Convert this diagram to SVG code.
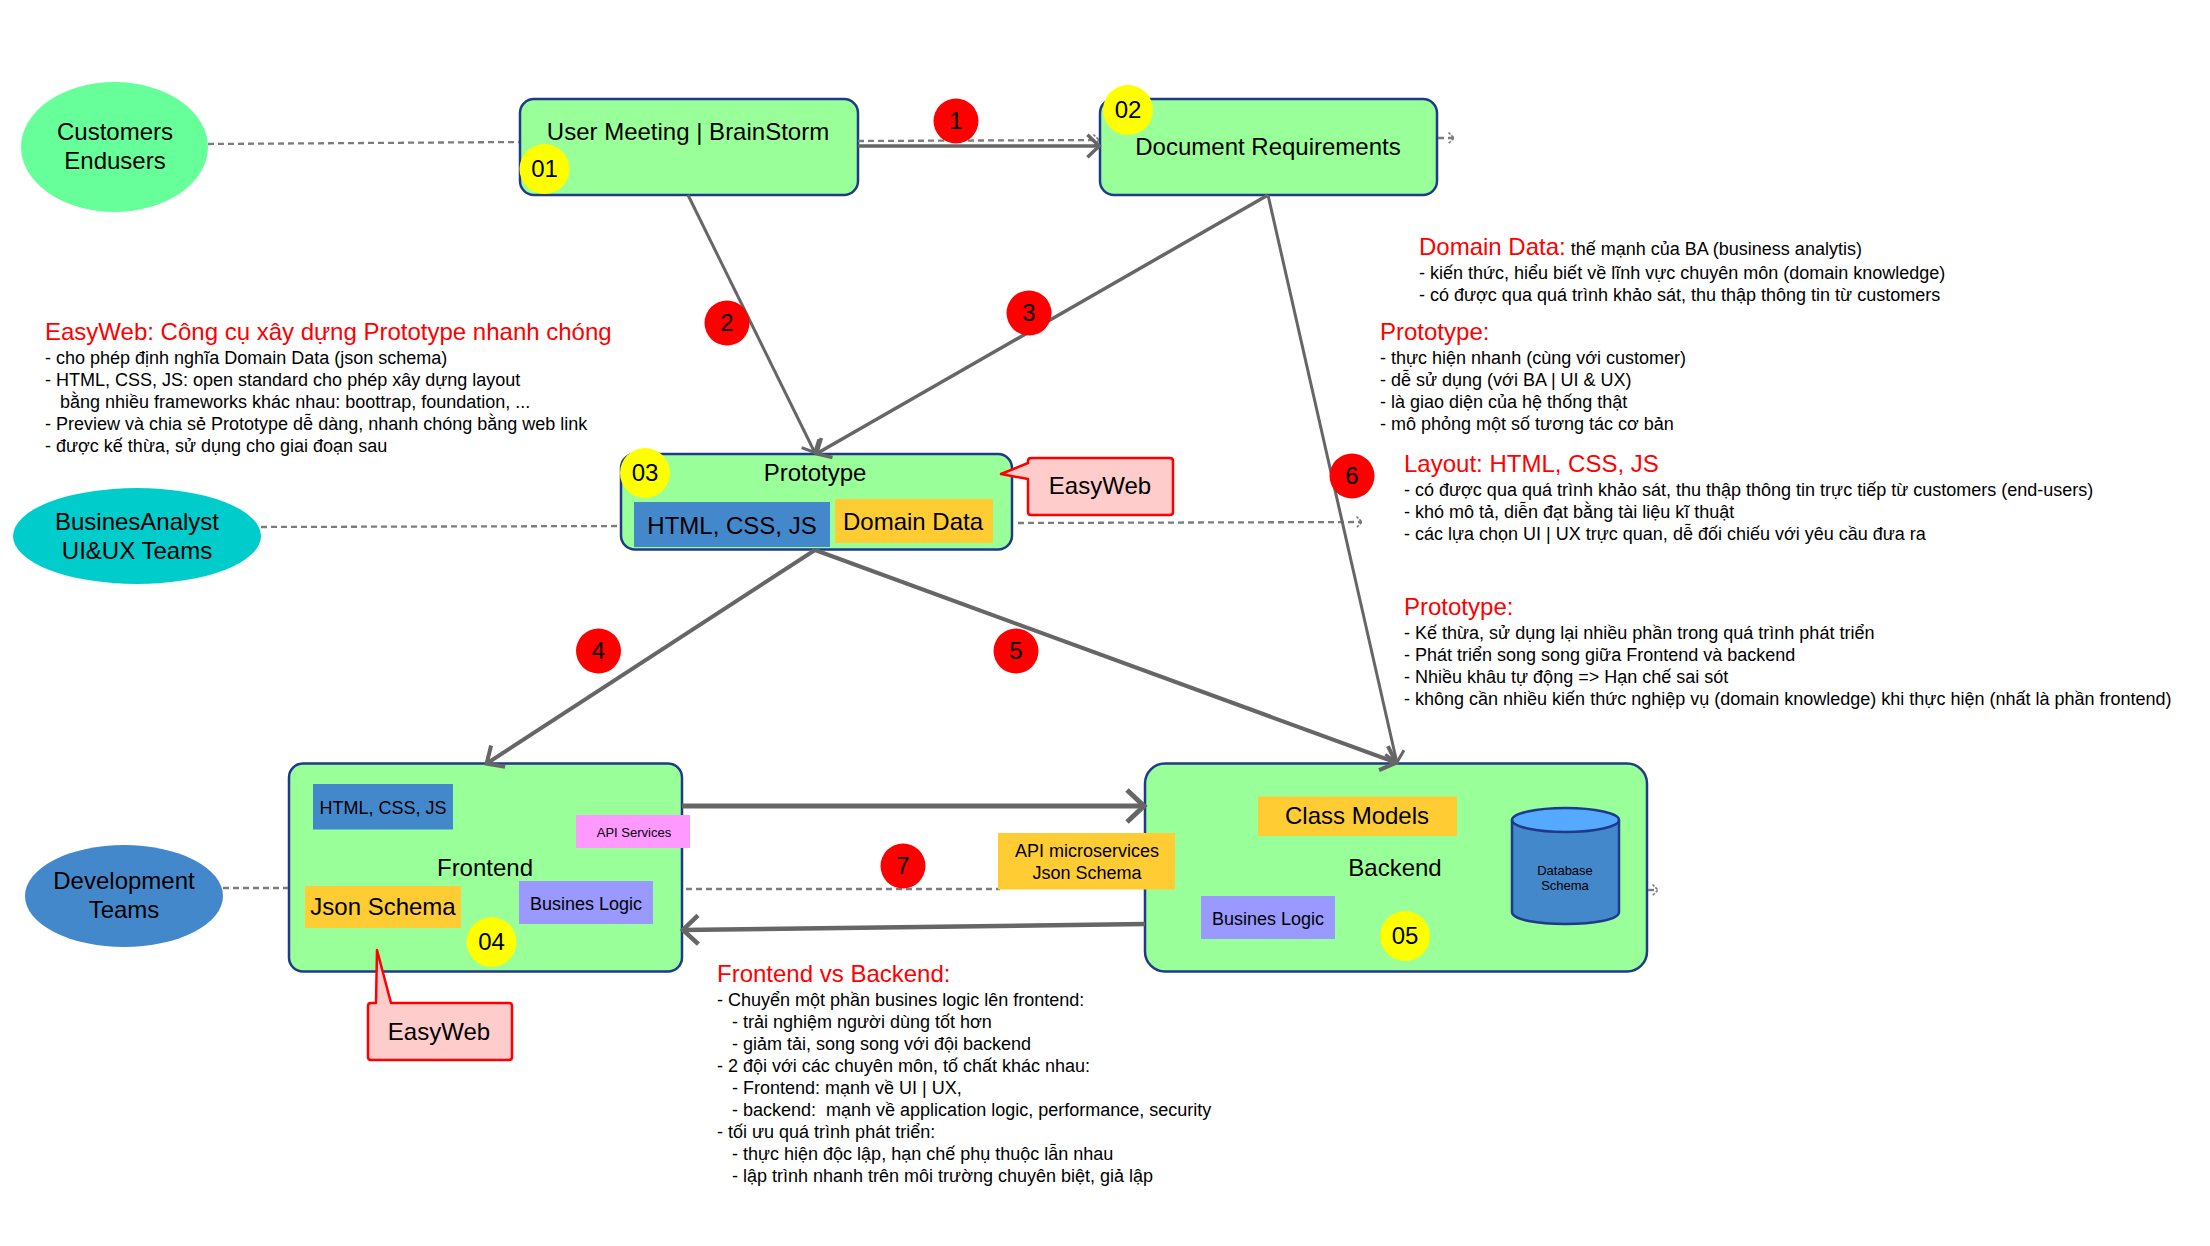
<svg xmlns="http://www.w3.org/2000/svg" width="2210" height="1246" viewBox="0 0 2210 1246">
<style>
text{font-family:"Liberation Sans",Arial,sans-serif;fill:#000}
.t{font-size:24px;text-anchor:middle}
.s{font-size:18px;text-anchor:middle}
.h{font-size:24px;fill:#f00}
.b{font-size:18px}
.box{fill:#99ff99;stroke:#1f3a8a;stroke-width:2.5}
.solid{fill:none;stroke:#666;marker-end:url(#arr)}
.dot{fill:none;stroke:#7c7c7c;stroke-width:2.3;stroke-dasharray:6 4}
.red{fill:#f00}.yel{fill:#ff0}
.blue{fill:#4488cc}.org{fill:#ffcc33}.pur{fill:#9999ff}.pink{fill:#ff99ff}
.call{fill:#ffcccc;stroke:#f00;stroke-width:2.5;stroke-linejoin:round}
</style>
<defs>
<marker id="arr" markerUnits="strokeWidth" markerWidth="6" markerHeight="8" viewBox="0 0 6 8" refX="4.6" refY="4" orient="auto" overflow="visible"><path d="M1,.8L4.4,4L1,7.2" fill="none" stroke="#666" stroke-width="1"/></marker>
<marker id="darr" markerUnits="strokeWidth" markerWidth="6" markerHeight="8" viewBox="0 0 6 8" refX="4" refY="4" orient="auto" overflow="visible"><path d="M1.6,1.6L4,4L1.6,6.400" fill="none" stroke="#7c7c7c" stroke-width=".7" stroke-dasharray="1.200 .6"/></marker>
</defs>
<rect width="2210" height="1246" fill="#fff"/>

<g id="customers"><ellipse cx="114.500" cy="147" rx="93.500" ry="65" fill="#66ff99"/><text class="t" x="115" y="140">Customers</text><text class="t" x="115" y="169">Endusers</text></g>
<g id="analyst"><ellipse cx="137" cy="536" rx="124" ry="48" fill="#00cccc"/><text class="t" x="137" y="530">BusinesAnalyst</text><text class="t" x="137" y="559">UI&amp;UX Teams</text></g>
<g id="devteams"><ellipse cx="124" cy="896" rx="99" ry="51" class="blue"/><text class="t" x="124" y="889">Development</text><text class="t" x="124" y="918">Teams</text></g>

<g id="meeting"><rect class="box" x="520" y="99" width="338" height="96" rx="14"/><text class="t" x="688" y="140">User Meeting | BrainStorm</text></g>
<g id="document"><rect class="box" x="1100" y="99" width="337" height="96" rx="14"/><text class="t" x="1268" y="155">Document Requirements</text></g>
<g id="prototype"><rect class="box" x="621" y="454" width="391" height="95.500" rx="14"/><text class="t" x="815" y="481">Prototype</text><rect class="blue" x="634" y="502" width="196" height="45"/><text class="t" x="732" y="534">HTML, CSS, JS</text><rect class="org" x="835" y="499" width="158" height="44"/><text class="t" x="913" y="530">Domain Data</text></g>
<g id="frontend"><rect class="box" x="289" y="763.500" width="393" height="208" rx="14"/><rect class="blue" x="313" y="784" width="140" height="45.500"/><text class="s" x="383" y="814">HTML, CSS, JS</text><text class="t" x="485" y="876">Frontend</text><rect class="org" x="305" y="886" width="156" height="42"/><text class="t" x="383" y="915">Json Schema</text><rect class="pur" x="519" y="881" width="134" height="43"/><text class="s" x="586" y="910">Busines Logic</text></g>
<g id="backend"><rect class="box" x="1145" y="763.500" width="502" height="208" rx="20"/><rect class="org" x="1258" y="796.500" width="199" height="39.500"/><text class="t" x="1357" y="824">Class Models</text><text class="t" x="1395" y="876">Backend</text><rect class="pur" x="1201" y="896" width="134" height="43"/><text class="s" x="1268" y="925">Busines Logic</text>
<path d="M1512,820V912C1512,928 1619,928 1619,912V820" class="blue" stroke="#1f3a8a" stroke-width="2.500"/><ellipse cx="1565.500" cy="820" rx="53.500" ry="12" fill="#55aaff" stroke="#1f3a8a" stroke-width="2.500"/><text x="1565" y="875" font-size="13" text-anchor="middle">Database</text><text x="1565" y="890" font-size="13" text-anchor="middle">Schema</text></g>

<g id="connectors">
<path class="dot" d="M208,144L519,142"/>
<path class="dot" d="M858,141L1099,140" marker-end="url(#darr)"/>
<path class="dot" d="M1438,138L1454,138" marker-end="url(#darr)"/>
<path class="dot" d="M261,527L620,526"/>
<path class="dot" d="M1018,523L1362,522" marker-end="url(#darr)"/>
<path class="dot" d="M223,888L288,888"/>
<path class="dot" d="M686,889L1000,889"/>
<path class="dot" d="M1648,890L1658,890" marker-end="url(#darr)"/>
<path class="solid" stroke-width="3.500" d="M858,146L1100,146"/>
<path class="solid" stroke-width="3" d="M688,195L815,453"/>
<path class="solid" stroke-width="3.500" d="M1268,195L816,454"/>
<path class="solid" stroke-width="3" d="M1268,195L1397,763"/>
<path class="solid" stroke-width="4" d="M815,550L486,764"/>
<path class="solid" stroke-width="4" d="M815,550L1397,763"/>
<path class="solid" stroke-width="5" d="M682,806L1145,806"/>
<path class="solid" stroke-width="4.500" d="M1145,924L682,930"/>
</g>

<g id="callout1"><path class="call" d="M1028,461Q1028,458 1031,458H1170Q1173,458 1173,461V512Q1173,515 1170,515H1031Q1028,515 1028,512V479L1001,474L1028,463Z"/><text class="t" x="1100" y="494">EasyWeb</text></g>
<g id="callout2"><path class="call" d="M368,1006Q368,1003 371,1003H376L377,950L391,1003H509Q512,1003 512,1006V1057Q512,1060 509,1060H371Q368,1060 368,1057Z"/><text class="t" x="439" y="1040">EasyWeb</text></g>

<g id="apis"><rect class="pink" x="576" y="815" width="114" height="33"/><text x="634" y="837" font-size="13" text-anchor="middle">API Services</text><rect class="org" x="998" y="833" width="177" height="56.500"/><text class="s" x="1087" y="857">API microservices</text><text class="s" x="1087" y="879">Json Schema</text></g>

<g id="badges">
<g id="b01"><circle class="yel" cx="544.500" cy="169" r="25"/><text class="t" x="544.500" y="177">01</text></g>
<g id="b02"><circle class="yel" cx="1128" cy="110" r="25"/><text class="t" x="1128" y="118">02</text></g>
<g id="b03"><circle class="yel" cx="645" cy="473" r="25"/><text class="t" x="645" y="481">03</text></g>
<g id="b04"><circle class="yel" cx="491.500" cy="942" r="25"/><text class="t" x="491.500" y="950">04</text></g>
<g id="b05"><circle class="yel" cx="1405" cy="936" r="25"/><text class="t" x="1405" y="944">05</text></g>
<g id="n1"><circle class="red" cx="956" cy="121" r="22.500"/><text class="t" x="956" y="129">1</text></g>
<g id="n2"><circle class="red" cx="727" cy="323" r="22.500"/><text class="t" x="727" y="331">2</text></g>
<g id="n3"><circle class="red" cx="1029" cy="313" r="22.500"/><text class="t" x="1029" y="321">3</text></g>
<g id="n4"><circle class="red" cx="598.500" cy="651" r="22.500"/><text class="t" x="598.500" y="659">4</text></g>
<g id="n5"><circle class="red" cx="1016" cy="651" r="22.500"/><text class="t" x="1016" y="659">5</text></g>
<g id="n6"><circle class="red" cx="1352" cy="476" r="22.500"/><text class="t" x="1352" y="484">6</text></g>
<g id="n7"><circle class="red" cx="903" cy="866" r="22.500"/><text class="t" x="903" y="874">7</text></g>
</g>

<g id="note-easyweb"><text class="h" x="45" y="340">EasyWeb: Công cụ xây dựng Prototype nhanh chóng</text>
<text class="b" x="45" y="364">- cho phép định nghĩa Domain Data (json schema)</text>
<text class="b" x="45" y="386">- HTML, CSS, JS: open standard cho phép xây dựng layout</text>
<text class="b" x="60" y="408">bằng nhiều frameworks khác nhau: boottrap, foundation, ...</text>
<text class="b" x="45" y="430">- Preview và chia sẻ Prototype dễ dàng, nhanh chóng bằng web link</text>
<text class="b" x="45" y="452">- được kế thừa, sử dụng cho giai đoạn sau</text></g>
<g id="note-domain"><text x="1419" y="255"><tspan class="h">Domain Data:</tspan><tspan class="b"> thế mạnh của BA (business analytis)</tspan></text>
<text class="b" x="1419" y="279">- kiến thức, hiểu biết về lĩnh vực chuyên môn (domain knowledge)</text>
<text class="b" x="1419" y="301">- có được qua quá trình khảo sát, thu thập thông tin từ customers</text></g>
<g id="note-proto1"><text class="h" x="1380" y="340">Prototype:</text>
<text class="b" x="1380" y="364">- thực hiện nhanh (cùng với customer)</text>
<text class="b" x="1380" y="386">- dễ sử dụng (với BA | UI &amp; UX)</text>
<text class="b" x="1380" y="408">- là giao diện của hệ thống thật</text>
<text class="b" x="1380" y="430">- mô phỏng một số tương tác cơ bản</text></g>
<g id="note-layout"><text class="h" x="1404" y="472">Layout: HTML, CSS, JS</text>
<text class="b" x="1404" y="496">- có được qua quá trình khảo sát, thu thập thông tin trực tiếp từ customers (end-users)</text>
<text class="b" x="1404" y="518">- khó mô tả, diễn đạt bằng tài liệu kĩ thuật</text>
<text class="b" x="1404" y="540">- các lựa chọn UI | UX trực quan, dễ đối chiếu với yêu cầu đưa ra</text></g>
<g id="note-proto2"><text class="h" x="1404" y="615">Prototype:</text>
<text class="b" x="1404" y="639">- Kế thừa, sử dụng lại nhiều phần trong quá trình phát triển</text>
<text class="b" x="1404" y="661">- Phát triển song song giữa Frontend và backend</text>
<text class="b" x="1404" y="683">- Nhiều khâu tự động =&gt; Hạn chế sai sót</text>
<text class="b" x="1404" y="705">- không cần nhiều kiến thức nghiệp vụ (domain knowledge) khi thực hiện (nhất là phần frontend)</text></g>
<g id="note-fb"><text class="h" x="717" y="982">Frontend vs Backend:</text>
<text class="b" x="717" y="1006">- Chuyển một phần busines logic lên frontend:</text>
<text class="b" x="732" y="1028">- trải nghiệm người dùng tốt hơn</text>
<text class="b" x="732" y="1050">- giảm tải, song song với đội backend</text>
<text class="b" x="717" y="1072">- 2 đội với các chuyên môn, tố chất khác nhau:</text>
<text class="b" x="732" y="1094">- Frontend: mạnh về UI | UX,</text>
<text class="b" x="732" y="1116" xml:space="preserve">- backend:  mạnh về application logic, performance, security</text>
<text class="b" x="717" y="1138">- tối ưu quá trình phát triển:</text>
<text class="b" x="732" y="1160">- thực hiện độc lập, hạn chế phụ thuộc lẫn nhau</text>
<text class="b" x="732" y="1182">- lập trình nhanh trên môi trường chuyên biệt, giả lập</text></g>
</svg>
